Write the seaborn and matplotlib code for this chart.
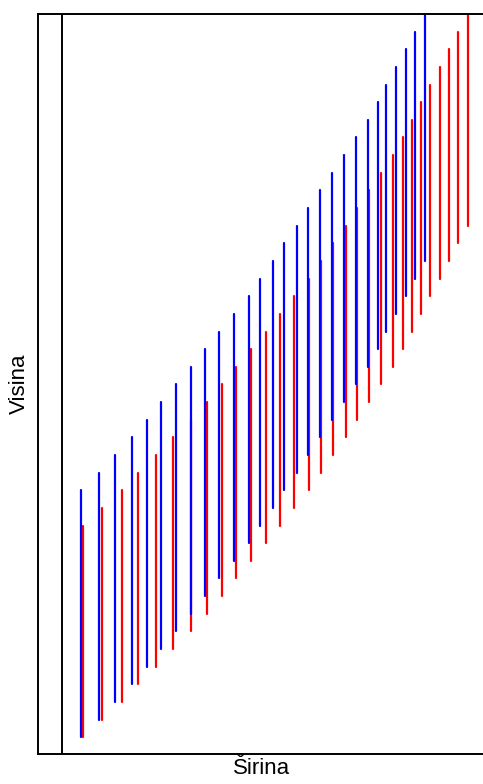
import pandas as pd
import matplotlib
matplotlib.use("Agg")
import matplotlib.pyplot as plt
import seaborn as sns

# horizontal positions of the segments (distance from the black reference line)
blue_x = [19.2, 36.5, 52.8, 69.8, 85.2, 99.2, 113.8, 128.5, 142.5, 157, 172.2, 186.5, 198.2, 210.5,
          221.8, 234.5, 246.2, 258.2, 270, 282.2, 293.8, 306, 315.5, 324.2, 333.8, 343.5, 352.8, 362.5]
red_x = [20.5, 40.3, 60.2, 76.3, 93.8, 111, 128.5, 145.2, 159.5, 174.2, 189.2, 204.2, 218, 232.2,
         246.8, 259.2, 271.2, 283.5, 294.8, 307.3, 318.5, 330.8, 340.5, 349.5, 358.8, 368.2, 377.8, 387.2,
         395.8, 405.5]

# vertical extent of every segment (low end, high end)
blue_low = [0, 1, 2, 3, 4, 5, 6, 7, 8, 9, 10, 11, 12, 13, 14, 15, 16, 17, 18, 19, 20, 21, 22,
            23, 24, 25, 26, 27]
blue_high = [14, 15, 16, 17, 18, 19, 20, 21, 22, 23, 24, 25, 26, 27, 28, 29, 30, 31, 32, 33, 34,
             35, 36, 37, 38, 39, 40, 41]
red_low = [0, 1, 2, 3, 4, 5, 6, 7, 8, 9, 10, 11, 12, 13, 14, 15, 16, 17, 18, 19, 20, 21, 22, 23,
           24, 25, 26, 27, 28, 29]
red_high = [12, 13, 14, 15, 16, 17, 18, 19, 20, 21, 22, 23, 24, 25, 26, 27, 28, 29, 30, 31, 32,
            33, 34, 35, 36, 37, 38, 39, 40, 41]

rows = []
for i in range(len(red_x)):
    rows.append({"x": red_x[i], "y": red_low[i], "seg": "r%d" % i, "boja": "red"})
    rows.append({"x": red_x[i], "y": red_high[i], "seg": "r%d" % i, "boja": "red"})
for i in range(len(blue_x)):
    rows.append({"x": blue_x[i], "y": blue_low[i], "seg": "b%d" % i, "boja": "blue"})
    rows.append({"x": blue_x[i], "y": blue_high[i], "seg": "b%d" % i, "boja": "blue"})
data = pd.DataFrame(rows)

sns.set_style("white")
plt.rcParams['font.family'] = ['Liberation Sans', 'DejaVu Sans']

fig = plt.figure(figsize=(4.83, 7.84), dpi=100)
ax = fig.add_axes([38 / 483, 30 / 784, 447 / 483, 740 / 784])

sns.lineplot(data=data, x="x", y="y", hue="boja", units="seg", estimator=None, sort=False,
             hue_order=["red", "blue"], palette={"red": "red", "blue": "blue"},
             linewidth=1.6, legend=False, ax=ax)
ax.axvline(0, color="black", linewidth=1.4)

ax.set_xlim(-24, 423)
ax.set_ylim(-0.95, 41)
ax.set_xticks([])
ax.set_yticks([])
for s in ax.spines.values():
    s.set_color("black")
    s.set_linewidth(1.4)
ax.set_xlabel("Širina", fontsize=16, labelpad=3, color="black")
ax.set_ylabel("Visina", fontsize=16, labelpad=6, color="black")

fig.savefig("out.png", dpi=100)
